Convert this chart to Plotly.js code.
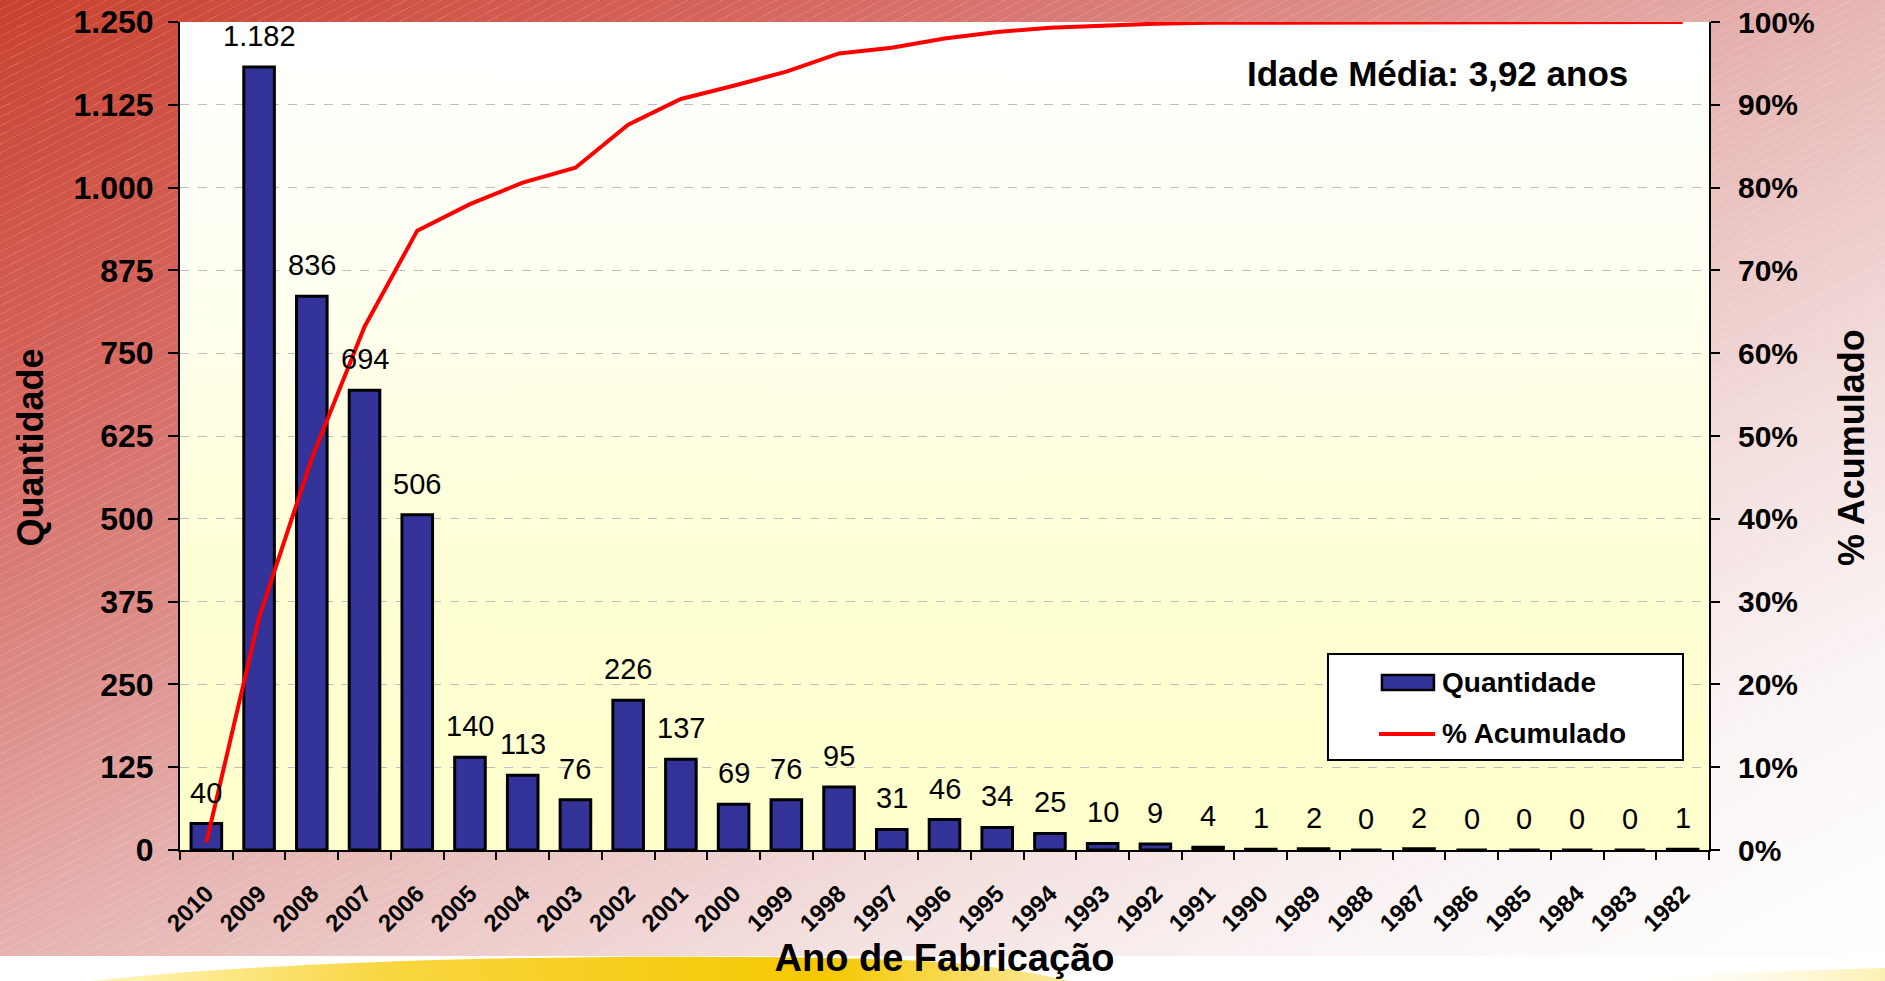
<!DOCTYPE html>
<html>
<head>
<meta charset="utf-8">
<script src="https://cdn.plot.ly/plotly-3.0.1.min.js"></script>
<style>
  html, body { margin: 0; padding: 0; width: 1885px; height: 981px; overflow: hidden; }
  #bg {
    position: absolute; left: 0; top: 0; width: 1885px; height: 981px;
    background:
      repeating-linear-gradient(153deg, rgba(255,255,255,0.13) 0px, rgba(255,255,255,0.13) 1px, rgba(255,255,255,0) 1px, rgba(255,255,255,0) 8px),
      linear-gradient(to bottom right, #C9412E 0%, #D5645C 20%, #DC8A85 35%, #E6B6B3 50%, #F3E0DF 70%, #FBF6F6 85%, #FFFFFF 100%);
  }
  #plotbg {
    position: absolute; left: 180px; top: 22px; width: 1529px; height: 828px;
    background: linear-gradient(to bottom, #FFFFFF 0%, #FFFFF2 30%, #FFFFD6 65%, #FFFFCC 100%);
  }
  #strip { position: absolute; left: 0; top: 956px; width: 1885px; height: 25px; }
  #chart { position: absolute; left: 0; top: 0; width: 1885px; height: 981px; }
</style>
</head>
<body>
<div id="bg"></div>
<svg id="strip" width="1885" height="25" viewBox="0 956 1885 25">
  <defs>
    <linearGradient id="yel" x1="0" x2="1" y1="0" y2="0">
      <stop offset="0" stop-color="#FFF6C0"/>
      <stop offset="0.3" stop-color="#F8D640"/>
      <stop offset="0.75" stop-color="#F5C800"/>
      <stop offset="1" stop-color="#FBE9A0"/>
    </linearGradient>
    <linearGradient id="yel2" x1="0" x2="1" y1="0" y2="0">
      <stop offset="0" stop-color="#FFFFFF" stop-opacity="0"/>
      <stop offset="1" stop-color="#FBEFA8" stop-opacity="0.9"/>
    </linearGradient>
  </defs>
  <rect x="0" y="956" width="1885" height="25" fill="#FFFFFF"/>
  <path d="M 90 981 C 300 958, 650 952, 900 960 C 980 963, 1030 972, 1070 981 Z" fill="url(#yel)"/>
  <path d="M 1600 981 C 1700 975, 1800 970, 1885 968 L 1885 981 Z" fill="url(#yel2)"/>
</svg>
<div id="plotbg"></div>
<div id="chart"></div>
<script>
// ---- data ----
const anos = ['2010','2009','2008','2007','2006','2005','2004','2003','2002','2001','2000','1999','1998','1997','1996','1995','1994','1993','1992','1991','1990','1989','1988','1987','1986','1985','1984','1983','1982'];
const quantidade = [40,1182,836,694,506,140,113,76,226,137,69,76,95,31,46,34,25,10,9,4,1,2,0,2,0,0,0,0,1];
const acumulado = [0.9,28.1,47.3,63.2,74.8,78.0,80.6,82.4,87.6,90.7,92.3,94.0,96.2,96.9,98.0,98.8,99.3,99.6,99.8,99.9,99.9,99.9,99.9,100.0,100.0,100.0,100.0,100.0,100.0];
const yTicks = [0,125,250,375,500,625,750,875,1000,1125,1250];
const nomeBarras = 'Quantidade';
const nomeLinha = '% Acumulado';
const tituloX = 'Ano de Fabricação';
const tituloY = 'Quantidade';
const tituloY2 = '% Acumulado';
const textoIdade = 'Idade Média: 3,92 anos';

const FONT = 'Liberation Sans, Arial, sans-serif';
const COR_BARRA = '#333399';
const COR_LINHA = '#FF0000';
function fmt(v) { return String(v).replace(/\B(?=(\d{3})+(?!\d))/g, '.'); }

const barras = {
  type: 'bar', name: nomeBarras, x: anos, y: quantidade, yaxis: 'y',
  marker: { color: COR_BARRA, line: { color: '#000000', width: 3 } },
  hoverinfo: 'skip', showlegend: false
};
const linha = {
  type: 'scatter', mode: 'lines', name: nomeLinha, x: anos, y: acumulado, yaxis: 'y2',
  line: { color: COR_LINHA, width: 4 }, cliponaxis: false, hoverinfo: 'skip', showlegend: false
};

// category index positions (numeric-looking category names would be read as indices)
const anotacoes = anos.map((a, i) => ({
  x: i, y: quantidade[i], xref: 'x', yref: 'y', text: fmt(quantidade[i]),
  showarrow: false, yanchor: 'bottom', xanchor: 'center', yshift: 13,
  font: { family: FONT, size: 29, color: '#000000' }
}));
anotacoes.push({
  xref: 'paper', yref: 'paper', x: 0.8224, y: 0.9384, xanchor: 'center', yanchor: 'middle',
  text: textoIdade, showarrow: false,
  font: { family: FONT, size: 35, color: '#000000', weight: 'bold' }
});
// axis titles for the two y axes
const tituloFont = { family: FONT, size: 36, color: '#000000', weight: 'bold' };
anotacoes.push({ xref: 'paper', yref: 'paper', x: -0.0975, y: 0.4861, xanchor: 'center', yanchor: 'middle',
  textangle: -90, text: tituloY, showarrow: false, font: tituloFont });
anotacoes.push({ xref: 'paper', yref: 'paper', x: 1.0932, y: 0.4861, xanchor: 'center', yanchor: 'middle',
  textangle: -90, text: tituloY2, showarrow: false, font: tituloFont });
// legend (drawn as a boxed key)
const legFont = { family: FONT, size: 28, color: '#000000', weight: 'bold' };
anotacoes.push({ xref: 'paper', yref: 'paper', x: 0.8241, y: 0.2017, xanchor: 'left', yanchor: 'middle',
  text: nomeBarras, showarrow: false, font: legFont });
anotacoes.push({ xref: 'paper', yref: 'paper', x: 0.8241, y: 0.1401, xanchor: 'left', yanchor: 'middle',
  text: nomeLinha, showarrow: false, font: legFont });
const formas = [
  { type: 'rect', xref: 'paper', yref: 'paper', x0: 0.7508, x1: 0.9830, y0: 0.1087, y1: 0.2367,
    fillcolor: '#FFFFFF', line: { color: '#000000', width: 2 }, layer: 'above' },
  { type: 'rect', xref: 'paper', yref: 'paper', x0: 0.7861, x1: 0.8201, y0: 0.1932, y1: 0.2114,
    fillcolor: COR_BARRA, line: { color: '#000000', width: 2.5 }, layer: 'above' },
  { type: 'line', xref: 'paper', yref: 'paper', x0: 0.7842, x1: 0.8208, y0: 0.1401, y1: 0.1401,
    line: { color: COR_LINHA, width: 4 }, layer: 'above' }
];

const layout = {
  width: 1885, height: 981, autosize: false,
  margin: { l: 180, r: 176, t: 22, b: 131, pad: 0 },
  paper_bgcolor: 'rgba(0,0,0,0)', plot_bgcolor: 'rgba(0,0,0,0)',
  separators: ',.',
  bargap: 0.42,
  font: { family: FONT, color: '#000000' },
  showlegend: false,
  xaxis: {
    type: 'category', range: [-0.5, anos.length - 0.5], autorange: false,
    tickson: 'boundaries', ticks: 'outside', ticklen: 8, tickwidth: 2, tickcolor: '#000000',
    showline: true, linecolor: '#000000', linewidth: 2, showgrid: false, zeroline: false,
    tickangle: -45, tickfont: { family: FONT, size: 24, color: '#000000', weight: 'bold' }, ticklabelstandoff: 18,
    title: { text: tituloX, font: { family: FONT, size: 38, color: '#000000', weight: 'bold' }, standoff: 8 },
    fixedrange: true
  },
  yaxis: {
    range: [0, 1250], autorange: false, tickmode: 'array', tickvals: yTicks, ticktext: yTicks.map(fmt),
    ticks: 'outside', ticklen: 10, tickwidth: 2, tickcolor: '#000000',
    showline: true, linecolor: '#000000', linewidth: 2, zeroline: false,
    showgrid: true, gridcolor: '#BDBDBD', gridwidth: 1, griddash: 'dash',
    tickfont: { family: FONT, size: 32, color: '#000000', weight: 'bold' }, ticklabelstandoff: 8,
    fixedrange: true
  },
  yaxis2: {
    overlaying: 'y', side: 'right', range: [0, 100], autorange: false, dtick: 10, tick0: 0, ticksuffix: '%',
    ticks: 'outside', ticklen: 9, tickwidth: 2, tickcolor: '#000000',
    showline: true, linecolor: '#000000', linewidth: 2, zeroline: false, showgrid: false,
    tickfont: { family: FONT, size: 30, color: '#000000', weight: 'bold' }, ticklabelstandoff: 12,
    fixedrange: true
  },
  shapes: formas,
  annotations: anotacoes
};

Plotly.newPlot('chart', [barras, linha], layout, { displayModeBar: false, staticPlot: true });
</script>
</body>
</html>
